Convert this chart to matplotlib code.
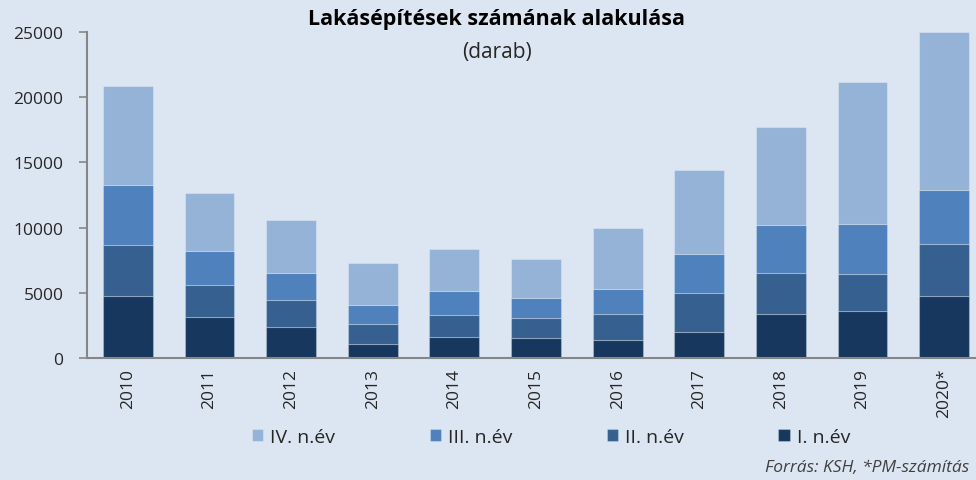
"""Lakásépítések számának alakulása - stacked quarterly bars."""

import matplotlib

matplotlib.use("Agg")
import matplotlib.pyplot as plt
import numpy as np

plt.rcParams["font.family"] = ["Open Sans", "DejaVu Sans"]

years = ["2010", "2011", "2012", "2013", "2014", "2015",
         "2016", "2017", "2018", "2019", "2020*"]

# quarterly values (darab), stacked I -> IV
q1 = [4790, 3130, 2410, 1100, 1640, 1540, 1380, 2030, 3380, 3640, 4770]
q2 = [3850, 2430, 2000, 1540, 1620, 1510, 2030, 2920, 3110, 2820, 3950]
q3 = [4610, 2620, 2080, 1440, 1840, 1570, 1850, 3020, 3740, 3850, 4130]
q4 = [7620, 4490, 4070, 3230, 3260, 3000, 4740, 6470, 7520, 10890, 12150]

series = [
    ("I. n.év", q1, "#17375E"),
    ("II. n.év", q2, "#35608F"),
    ("III. n.év", q3, "#4F81BD"),
    ("IV. n.év", q4, "#95B3D7"),
]

BG = "#DCE6F2"
AXIS_GREY = "#868686"
TEXT = "#262626"

fig = plt.figure(figsize=(9.76, 4.81), dpi=100, facecolor=BG)
W, H = 976, 481
ax = fig.add_axes([87 / W, 122 / H, (985 - 87) / W, 326 / H])
ax.set_facecolor(BG)

x = np.arange(len(years))
bottom = np.zeros(len(years))
handles = {}
for label, vals, color in series:
    bars = ax.bar(x, vals, width=0.61, bottom=bottom, color=color,
                  edgecolor=(1, 1, 1, 0.25), linewidth=0.8, label=label)
    handles[label] = bars
    bottom += np.array(vals)

ax.set_xlim(-0.5, 10.5)
ax.set_ylim(0, 25000)
ax.set_yticks(range(0, 25001, 5000))
ax.set_xticks(x)
ax.set_xticklabels(years, rotation=90, fontsize=12.5, color=TEXT)
ax.tick_params(axis="y", direction="out", length=6, width=1.2,
               color=AXIS_GREY, labelsize=12.5, labelcolor=TEXT, pad=11)
ax.tick_params(axis="x", length=0, pad=7)

for side in ("top", "right"):
    ax.spines[side].set_visible(False)
for side in ("left", "bottom"):
    ax.spines[side].set_color(AXIS_GREY)
    ax.spines[side].set_linewidth(1.5)

fig.text(497 / W, 1 - 20 / H, "Lakásépítések számának alakulása",
         ha="center", va="center", fontsize=15.5, fontweight="bold")
fig.text(497 / W, 1 - 53 / H, "(darab)", ha="center", va="center",
         fontsize=15, color=TEXT)

order = ["IV. n.év", "III. n.év", "II. n.év", "I. n.év"]
fig.legend([handles[k] for k in order], order, loc="center",
           bbox_to_anchor=(551 / W, 1 - 438 / H), ncol=4, frameon=False,
           fontsize=14, handlelength=0.6, handleheight=0.6,
           handletextpad=0.35, columnspacing=4.85, labelcolor=TEXT)

fig.text(969 / W, 1 - 468 / H, "Forrás: KSH, *PM-számítás", ha="right",
         va="center", fontsize=12.5, style="italic", color="#404040")

fig.savefig("out.png", dpi=100, facecolor=BG)
